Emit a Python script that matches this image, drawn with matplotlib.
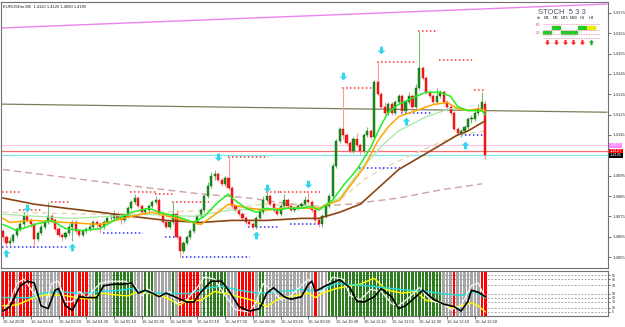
import numpy as np
import matplotlib.pyplot as plt
from matplotlib.path import Path
from matplotlib.transforms import blended_transform_factory

plt.rcParams['font.family'] = ['Liberation Sans', 'DejaVu Sans']

# ---- price bars (EURUSDm M5) ----
opens = [1.4068, 1.4065, 1.4062, 1.4063, 1.4066, 1.4069, 1.4071, 1.4075, 1.4073, 1.4071,
         1.4064, 1.4067, 1.4070, 1.4072, 1.4075, 1.4073, 1.4069, 1.4066, 1.4065, 1.4067,
         1.4070, 1.4072, 1.4068, 1.4066, 1.4068, 1.4069, 1.4070, 1.4072, 1.4071, 1.4070,
         1.4072, 1.4074, 1.4074, 1.4076, 1.4074, 1.4073, 1.4075, 1.4079, 1.4082, 1.4084,
         1.4080, 1.4077, 1.4078, 1.4080, 1.4082, 1.4083, 1.4076, 1.4072, 1.4070, 1.4072,
         1.4076, 1.4065, 1.4058, 1.4062, 1.4065, 1.4068, 1.4072, 1.4075, 1.4078, 1.4085,
         1.4090, 1.4095, 1.4096, 1.4093, 1.4091, 1.4094, 1.4089, 1.4080, 1.4078, 1.4076,
         1.4074, 1.4072, 1.4071, 1.4070, 1.4074, 1.4077, 1.4083, 1.4085, 1.4081, 1.4078,
         1.4076, 1.4080, 1.4083, 1.4080, 1.4078, 1.4079, 1.4080, 1.4081, 1.4083, 1.4082,
         1.4078, 1.4073, 1.4071, 1.4075, 1.4080, 1.4085, 1.4100, 1.4112, 1.4118, 1.4115,
         1.4111, 1.4107, 1.4113, 1.4110, 1.4107, 1.4115, 1.4117, 1.4114, 1.4141, 1.4135,
         1.4129, 1.4126, 1.4130, 1.4126, 1.4131, 1.4134, 1.4127, 1.4131, 1.4134, 1.4129,
         1.4138, 1.4148, 1.4143, 1.4136, 1.4134, 1.4131, 1.4134, 1.4136, 1.4131, 1.4129,
         1.4126, 1.4118, 1.4116, 1.4117, 1.4119, 1.4123, 1.4123, 1.4126, 1.4128, 1.4130]
closes = [1.4065, 1.4062, 1.4063, 1.4066, 1.4069, 1.4071, 1.4075, 1.4073, 1.4071, 1.4064,
          1.4067, 1.4070, 1.4072, 1.4075, 1.4073, 1.4069, 1.4066, 1.4065, 1.4067, 1.4070,
          1.4072, 1.4068, 1.4066, 1.4068, 1.4069, 1.4070, 1.4072, 1.4071, 1.4070, 1.4072,
          1.4074, 1.4074, 1.4076, 1.4074, 1.4073, 1.4075, 1.4079, 1.4082, 1.4084, 1.4080,
          1.4077, 1.4078, 1.4080, 1.4082, 1.4083, 1.4076, 1.4072, 1.4070, 1.4072, 1.4076,
          1.4065, 1.4058, 1.4062, 1.4065, 1.4068, 1.4072, 1.4075, 1.4078, 1.4085, 1.4090,
          1.4095, 1.4096, 1.4093, 1.4091, 1.4094, 1.4089, 1.4080, 1.4078, 1.4076, 1.4074,
          1.4072, 1.4071, 1.4070, 1.4074, 1.4077, 1.4083, 1.4085, 1.4081, 1.4078, 1.4076,
          1.4080, 1.4083, 1.4080, 1.4078, 1.4079, 1.4080, 1.4081, 1.4083, 1.4082, 1.4078,
          1.4073, 1.4071, 1.4075, 1.4080, 1.4085, 1.4100, 1.4112, 1.4118, 1.4115, 1.4111,
          1.4107, 1.4113, 1.4110, 1.4107, 1.4115, 1.4117, 1.4114, 1.4141, 1.4135, 1.4129,
          1.4126, 1.4130, 1.4126, 1.4131, 1.4134, 1.4127, 1.4131, 1.4134, 1.4129, 1.4138,
          1.4148, 1.4143, 1.4136, 1.4134, 1.4131, 1.4134, 1.4136, 1.4131, 1.4129, 1.4126,
          1.4118, 1.4116, 1.4117, 1.4119, 1.4123, 1.4123, 1.4126, 1.4128, 1.4131, 1.4105]
highs = [1.4069, 1.4066, 1.4065, 1.4067, 1.4070, 1.4073, 1.4077, 1.4076, 1.4074, 1.4072,
         1.4068, 1.4071, 1.4073, 1.4082, 1.4076, 1.4074, 1.4070, 1.4067, 1.4068, 1.4071,
         1.4073, 1.4073, 1.4069, 1.4069, 1.4070, 1.4071, 1.4073, 1.4073, 1.4072, 1.4073,
         1.4075, 1.4076, 1.4078, 1.4077, 1.4075, 1.4076, 1.4080, 1.4083, 1.4086, 1.4085,
         1.4081, 1.4079, 1.4081, 1.4083, 1.4085, 1.4084, 1.4077, 1.4073, 1.4073, 1.4082,
         1.4078, 1.4066, 1.4063, 1.4066, 1.4069, 1.4073, 1.4076, 1.4079, 1.4086, 1.4092,
         1.4097, 1.4098, 1.4097, 1.4094, 1.4095, 1.4104, 1.4090, 1.4081, 1.4079, 1.4077,
         1.4075, 1.4073, 1.4072, 1.4075, 1.4078, 1.4085, 1.4087, 1.4086, 1.4082, 1.4079,
         1.4081, 1.4086, 1.4084, 1.4081, 1.4080, 1.4081, 1.4082, 1.4085, 1.4087, 1.4083,
         1.4079, 1.4074, 1.4076, 1.4081, 1.4086, 1.4101, 1.4113, 1.4119, 1.4138, 1.4116,
         1.4112, 1.4114, 1.4116, 1.4111, 1.4116, 1.4119, 1.4118, 1.4142, 1.4151, 1.4136,
         1.4131, 1.4131, 1.4131, 1.4132, 1.4135, 1.4135, 1.4132, 1.4136, 1.4135, 1.4140,
         1.4166, 1.4149, 1.4144, 1.4137, 1.4135, 1.4138, 1.4137, 1.4137, 1.4132, 1.4130,
         1.4127, 1.4119, 1.4118, 1.4120, 1.4124, 1.4125, 1.4127, 1.4130, 1.4136, 1.4132]
lows = [1.4063, 1.4060, 1.4061, 1.4062, 1.4065, 1.4068, 1.4070, 1.4072, 1.4070, 1.4060,
        1.4063, 1.4066, 1.4069, 1.4071, 1.4072, 1.4068, 1.4065, 1.4063, 1.4064, 1.4066,
        1.4063, 1.4067, 1.4065, 1.4065, 1.4067, 1.4068, 1.4069, 1.4070, 1.4067, 1.4069,
        1.4071, 1.4073, 1.4073, 1.4073, 1.4071, 1.4072, 1.4074, 1.4078, 1.4081, 1.4079,
        1.4076, 1.4076, 1.4077, 1.4079, 1.4081, 1.4075, 1.4071, 1.4069, 1.4069, 1.4071,
        1.4064, 1.4055, 1.4057, 1.4061, 1.4064, 1.4067, 1.4071, 1.4074, 1.4077, 1.4084,
        1.4089, 1.4093, 1.4092, 1.4090, 1.4090, 1.4088, 1.4079, 1.4077, 1.4075, 1.4073,
        1.4071, 1.4070, 1.4069, 1.4069, 1.4073, 1.4076, 1.4082, 1.4080, 1.4077, 1.4075,
        1.4075, 1.4079, 1.4079, 1.4077, 1.4077, 1.4078, 1.4079, 1.4080, 1.4081, 1.4077,
        1.4072, 1.4070, 1.4070, 1.4074, 1.4079, 1.4084, 1.4099, 1.4111, 1.4113, 1.4110,
        1.4106, 1.4106, 1.4109, 1.4105, 1.4106, 1.4114, 1.4113, 1.4113, 1.4134, 1.4128,
        1.4125, 1.4125, 1.4125, 1.4125, 1.4130, 1.4126, 1.4126, 1.4130, 1.4128, 1.4128,
        1.4137, 1.4142, 1.4135, 1.4133, 1.4130, 1.4130, 1.4133, 1.4130, 1.4128, 1.4125,
        1.4117, 1.4115, 1.4114, 1.4116, 1.4118, 1.4121, 1.4122, 1.4125, 1.4127, 1.4103]

# ---- moving averages, read at sample bars ----
lime_x = [0, 4, 9, 14, 18, 23, 28, 33, 37, 42, 45, 50, 55, 58, 62, 65, 66, 70, 73, 76, 79, 82, 86, 89, 91,
          95, 98, 102, 106, 109, 111, 114, 119, 122, 126, 129, 131, 134, 138, 139]
lime_y = [1.4071, 1.4068, 1.4071, 1.4073, 1.4069, 1.4068, 1.4069, 1.4074, 1.4077, 1.4079, 1.4077, 1.4075,
          1.4072, 1.4075, 1.4082, 1.4086, 1.4084, 1.4079, 1.4077, 1.4079, 1.4078, 1.4079, 1.4079, 1.4080,
          1.4078, 1.4083, 1.4090, 1.4098, 1.4109, 1.4120, 1.4126, 1.4130, 1.4134, 1.4136, 1.4136, 1.4134,
          1.4129, 1.4127, 1.4127, 1.4125]
orange_x = [0, 2, 9, 18, 28, 37, 43, 50, 57, 62, 65, 71, 76, 81, 88, 91, 97, 104, 108, 111, 114, 119,
            124, 128, 131, 134, 137, 139]
orange_y = [1.4074, 1.4072, 1.4073, 1.4072, 1.4071, 1.4075, 1.4077, 1.4074, 1.4071, 1.4077, 1.4081,
            1.4079, 1.4078, 1.4079, 1.4079, 1.4079, 1.4083, 1.4099, 1.4112, 1.4119, 1.4124, 1.4127,
            1.4130, 1.4131, 1.4128, 1.4127, 1.4128, 1.4127]
pale_x = [0, 20, 40, 55, 65, 80, 91, 97, 103, 110, 114, 122, 129, 134, 139]
pale_y = [1.4076, 1.4074, 1.4076, 1.4075, 1.4078, 1.4079, 1.4079, 1.4084, 1.4098, 1.4111, 1.4117,
          1.4124, 1.4128, 1.4127, 1.4127]
wheat_x = [0, 30, 60, 75, 91, 97, 104, 110, 120, 131, 139]
wheat_y = [1.4077, 1.4076, 1.4078, 1.4081, 1.4080, 1.4083, 1.4093, 1.4099, 1.4107, 1.4115, 1.4117]
brown_x = [0, 9, 18, 28, 37, 47, 57, 66, 76, 86, 91, 97, 103, 114, 117, 122, 127, 131, 134, 138, 139]
brown_y = [1.4084, 1.4081, 1.4079, 1.4077, 1.4075, 1.4073, 1.4072, 1.4073, 1.4073, 1.4074, 1.4074,
           1.4077, 1.4081, 1.4098, 1.4101, 1.4106, 1.4111, 1.4115, 1.4117, 1.4121, 1.4122]
rosy_x = [0, 14, 28, 42, 57, 71, 83, 91, 100, 114, 126, 138]
rosy_y = [1.4098, 1.4095, 1.4092, 1.4089, 1.4086, 1.4084, 1.4081, 1.4080, 1.4081, 1.4084, 1.4088, 1.4091]

# ---- fractal levels (start bar, end bar, price) ----
res_start = [0, 5, 14, 37, 44, 49, 65, 76, 80, 88, 98, 108, 120, 126, 136]
res_end = [5, 11, 19, 44, 49, 59, 76, 80, 87, 91, 106, 119, 125, 135, 139]
res_price = [1.4087, 1.4078, 1.4082, 1.4087, 1.4086, 1.4082, 1.4104, 1.4087, 1.4087, 1.4087,
             1.4138, 1.4151, 1.4166, 1.4152, 1.4137]
sup_start = [0, 9, 29, 47, 52, 71, 83, 103, 115, 131]
sup_end = [9, 18, 40, 51, 71, 79, 91, 114, 123, 139]
sup_price = [1.4060, 1.4060, 1.4067, 1.4065, 1.4055, 1.4070, 1.4071, 1.4099, 1.4126, 1.4115]

# ---- signal arrows ----
dn_bar = [7, 62, 76, 88, 98, 109]
dn_price = [1.4079, 1.4104, 1.4089, 1.4091, 1.4144, 1.4157]
up_bar = [1, 20, 73, 116, 133]
up_price = [1.4057, 1.4060, 1.4066, 1.4122, 1.4110]

# ---- horizontal lines ----
trend_x = [-1, 174]
trend_pink = [1.41676, 1.41794]
trend_olive = [1.41302, 1.41262]
hl_prices = [1.4110, 1.4107, 1.4105]
hl_colors = ['#f5c8e6', '#f07070', '#80e8f0']
tag_text = ['1.4110', '1.4107', '1.4105']
tag_colors = ['#ff80ff', '#ff0000', '#000000']
price_ticks = [1.4175, 1.4165, 1.4155, 1.4145, 1.4135, 1.4125, 1.4115,
               1.4095, 1.4085, 1.4075, 1.4065, 1.4055]

# ---- stochastic sub window ----
band_codes = ("r" * 4 + "n" + "r" * 4 + "n" * 8 + "r" * 4 + "n" + "r" * 3 + "n" * 2 + "g" * 2 + "n" * 3 +
              "g" * 6 + "n" * 3 + "g" * 3 + "n" * 5 + "g" + "n" + "r" * 6 + "n" + "g" * 7 + "n" * 3 +
              "r" * 5 + "n" + "g" * 2 + "n" * 14 + "r" + "n" * 3 + "g" * 33 + "n" * 3 + "r" + "n" * 7 + "r" * 2)
black_x = [0, 2, 5, 7, 9, 11, 13, 15, 16, 18, 20, 22, 24, 27, 29, 32, 35, 37, 39, 41, 43, 45, 47, 50, 53,
           55, 57, 60, 63, 65, 68, 71, 74, 76, 78, 81, 83, 86, 88, 89, 90, 93, 97, 100, 102, 104, 107,
           109, 112, 114, 116, 119, 121, 124, 127, 130, 132, 134, 135, 137, 139]
black_v = [7, 18, 69, 80, 76, 20, 13, 58, 62, 20, 9, 42, 40, 40, 69, 73, 73, 76, 51, 58, 51, 42, 51, 40,
           29, 29, 53, 80, 80, 58, 18, 7, 13, 51, 64, 42, 36, 42, 73, 80, 55, 69, 84, 64, 31, 29, 42, 62,
           42, 13, 20, 42, 58, 36, 24, 18, 7, 31, 58, 53, 42]
white_x = [0, 2, 4, 6, 9, 12, 14, 16, 18, 20, 22, 24, 28, 31, 35, 38, 40, 42, 45, 48, 50, 53, 56, 58,
           61, 64, 67, 71, 73, 75, 78, 80, 83, 86, 88, 90, 92, 95, 98, 100, 103, 106, 109, 112, 114,
           117, 120, 122, 124, 127, 129, 132, 135, 137, 139]
white_v = [5, 30, 75, 85, 50, 15, 75, 80, 30, 30, 55, 40, 75, 80, 80, 70, 45, 60, 40, 55, 25, 35, 65,
           90, 85, 45, 10, 5, 30, 75, 55, 35, 45, 70, 85, 55, 55, 90, 85, 45, 35, 60, 55, 25, 20, 40,
           65, 45, 30, 25, 10, 20, 70, 75, 40]
cyan_x = [0, 8, 11, 16, 22, 28, 34, 37, 42, 48, 54, 58, 63, 68, 74, 80, 86, 91, 96, 100, 106, 112,
          117, 122, 126, 132, 136, 139]
cyan_v = [40, 40, 50, 55, 50, 55, 58, 62, 52, 50, 50, 62, 68, 58, 50, 55, 60, 55, 75, 72, 68, 62, 58,
          55, 50, 45, 55, 40]
yellow_x = [0, 4, 9, 12, 14, 18, 21, 25, 28, 32, 36, 39, 43, 47, 51, 53, 57, 61, 65, 68, 72, 76, 80,
            84, 88, 90, 92, 96, 100, 103, 106, 107, 110, 112, 115, 119, 122, 126, 129, 132, 135, 137, 139]
yellow_v = [20, 22, 40, 47, 47, 45, 40, 36, 51, 47, 44, 55, 49, 40, 22, 33, 33, 55, 49, 42, 33, 18, 40,
            44, 51, 40, 51, 62, 69, 73, 84, 87, 62, 56, 51, 55, 33, 29, 15, 20, 27, 20, 5]
stoch_levels = [95, 85, 70, 50, 40, 30, 15, 5]
time_ticks = [0, 8, 16, 24, 32, 40, 48, 56, 64, 72, 80, 88, 96, 104, 112, 120, 128, 136]
time_labels = ["16 Jul 2009", "16 Jul 03:10", "16 Jul 03:50", "16 Jul 04:30", "16 Jul 05:10",
               "16 Jul 05:50", "16 Jul 06:30", "16 Jul 07:10", "16 Jul 07:50", "16 Jul 08:30",
               "16 Jul 09:10", "16 Jul 09:50", "16 Jul 10:30", "16 Jul 11:10", "16 Jul 11:50",
               "16 Jul 12:30", "16 Jul 13:10", "16 Jul 13:50"]

# ---- multi timeframe stoch panel ----
tf_names = ["M1", "M5", "M15", "M30", "H1", "H4"]
tf_zone = [20, 80, 20, 20, 80, 80]
tf_fill = ["#22cc22", "#22cc22", "#22cc22", "#22cc22", "#22cc22", "#eeee00"]
tf_dir = ["dn", "dn", "dn", "dn", "dn", "up"]

W, H = 625, 327
fig = plt.figure(figsize=(W / 100, H / 100), dpi=100)
fig.patch.set_facecolor('white')
ax = fig.add_axes([1 / W, 1 - 268 / H, 607 / W, 266 / H])
sub = fig.add_axes([1 / W, 1 - 316 / H, 607 / W, 45 / H])
ov = fig.add_axes([0, 0, 1, 1])
ov.set_xlim(0, W)
ov.set_ylim(H, 0)
ov.axis('off')

xl = (-0.58, 174.35)
x = np.arange(len(closes))
o, h, l, c = map(np.array, (opens, highs, lows, closes))
bull = c >= o

ax.set_xlim(*xl)
ax.set_ylim(1.40496, 1.41804)

# lines behind candles
ax.plot(trend_x, trend_pink, color='#ee82ee', lw=1.0, zorder=1)
ax.plot(trend_x, trend_olive, color='#7d7d5a', lw=0.9, zorder=1)
for p, col in zip(hl_prices, hl_colors):
    ax.axhline(p, color=col, lw=0.9, zorder=1)
ax.plot(rosy_x, rosy_y, color='#d0a0a0', lw=1.0, ls=(0, (5, 3)), zorder=2)
ax.plot(wheat_x, wheat_y, color='#e8d8b0', lw=1.0, ls=(0, (4, 3)), zorder=2)

for s, e, p in zip(res_start, res_end, res_price):
    ax.hlines(p, s - 0.3, e + 0.3, colors='#ff3030', lw=1.1, linestyles=(0, (1, 1.6)), zorder=3)
for s, e, p in zip(sup_start, sup_end, sup_price):
    ax.hlines(p, s - 0.3, e + 0.3, colors='#3030ff', lw=1.1, linestyles=(0, (1, 1.6)), zorder=3)

# candles
ax.vlines(x[bull], l[bull], h[bull], color='#77bb77', lw=0.8, zorder=4)
ax.vlines(x[~bull], l[~bull], h[~bull], color='#ff9999', lw=0.8, zorder=4)
body_lo = np.minimum(o, c)
body_h = np.maximum(np.abs(c - o), 0.00003)
ax.bar(x[bull], body_h[bull], bottom=body_lo[bull], width=0.62, color='#179317',
       edgecolor='#0d5d0d', lw=0.3, zorder=5)
ax.bar(x[~bull], body_h[~bull], bottom=body_lo[~bull], width=0.62, color='#ff1a1a',
       edgecolor='#d00000', lw=0.3, zorder=5)

ax.plot(brown_x, brown_y, color='#8b4513', lw=1.2, zorder=6)
ax.plot(pale_x, pale_y, color='#a8e8a8', lw=0.9, zorder=6)
ax.plot(orange_x, orange_y, color='#ffa500', lw=1.1, zorder=6)
ax.plot(lime_x, lime_y, color='#22ee22', lw=1.1, zorder=7)

arrow_dn = Path([(-0.2, 0.5), (0.2, 0.5), (0.2, 0.0), (0.5, 0.0), (0, -0.5), (-0.5, 0.0), (-0.2, 0.0), (-0.2, 0.5)],
                [Path.MOVETO] + [Path.LINETO] * 6 + [Path.CLOSEPOLY])
arrow_up = Path([(-0.2, -0.5), (0.2, -0.5), (0.2, 0.0), (0.5, 0.0), (0, 0.5), (-0.5, 0.0), (-0.2, 0.0), (-0.2, -0.5)],
                [Path.MOVETO] + [Path.LINETO] * 6 + [Path.CLOSEPOLY])
ax.scatter(dn_bar, dn_price, marker=arrow_dn, s=30, color='#33d6ee', lw=0, zorder=8)
ax.scatter(up_bar, up_price, marker=arrow_up, s=30, color='#33d6ee', lw=0, zorder=8)

ax.set_xticks([])
ax.yaxis.tick_right()
ax.set_yticks(price_ticks)
ax.set_yticklabels([f'{p:.4f}' for p in price_ticks])
ax.tick_params(axis='y', labelsize=3.1, length=2, pad=1, width=0.5, colors='#303030')
for sp in ax.spines.values():
    sp.set_color('#707070')
    sp.set_linewidth(0.8)
ax.text(0.004, 0.992, 'EURUSDm,M5  1.4120 1.4120 1.4080 1.4105', transform=ax.transAxes,
        fontsize=3.0, va='top', ha='left', color='#202020')

tr = blended_transform_factory(ax.transAxes, ax.transData)
for p, t, col in zip(hl_prices, tag_text, tag_colors):
    ax.text(1.003, p, t, transform=tr, fontsize=2.9, color='white', va='center', ha='left',
            bbox=dict(facecolor=col, edgecolor='none', pad=0.4), clip_on=False, zorder=10)

# sub window
sub.set_xlim(*xl)
sub.set_ylim(-5, 105)
cmap = {'r': '#ff0000', 'g': '#2d7d1e', 'n': '#a6a6a6'}
for lv in stoch_levels:
    sub.axhline(lv, color='#909090', lw=0.6, ls=(0, (2, 2)), zorder=0)
sub.bar(x, 110, bottom=-5, width=0.7, color=[cmap[k] for k in band_codes], zorder=1)
sub.plot(yellow_x, yellow_v, color='#ffff00', lw=1.0, zorder=3)
sub.plot(cyan_x, cyan_v, color='#22dddd', lw=1.0, zorder=3)
sub.plot(white_x, white_v, color='#f4f4f4', lw=0.9, zorder=4)
sub.plot(black_x, black_v, color='#000000', lw=1.2, zorder=5)
sub.yaxis.tick_right()
sub.set_yticks(stoch_levels)
sub.set_yticklabels([str(v) for v in stoch_levels])
sub.tick_params(axis='y', labelsize=2.6, length=1.5, pad=1, width=0.5, colors='#303030')
sub.set_xticks(time_ticks)
sub.set_xticklabels(time_labels, ha='left')
sub.tick_params(axis='x', labelsize=3.0, length=2, pad=1, width=0.5, colors='#303030')
for sp in sub.spines.values():
    sp.set_color('#707070')
    sp.set_linewidth(0.8)

# multi timeframe box
ov.text(562, 12, 'STOCH  5 3 3', fontsize=5.5, color='#505070', ha='center', va='center')
ov.text(537, 18, 'ch', fontsize=2.9, color='#303030', ha='left', va='center')
for k, name in enumerate(tf_names):
    cx = 547 + k * 8.8
    ov.text(cx, 18, name, fontsize=2.9, color='#303030', ha='center', va='center')
    yb = 27.5 if tf_zone[k] == 80 else 32
    ov.add_patch(plt.Rectangle((cx - 4, yb - 1.5), 8, 3, color=tf_fill[k]))
    if tf_dir[k] == 'dn':
        ov.scatter([cx], [42], marker=arrow_dn, s=14, color='#ff2020', lw=0)
    else:
        ov.scatter([cx], [42], marker=arrow_up, s=14, color='#20a020', lw=0)
ov.text(538, 25, '80', fontsize=3.0, color='#e04090', ha='center', va='center')
ov.text(538, 33, '20', fontsize=3.0, color='#e04090', ha='center', va='center')
for yy in [24, 29.5, 34, 38]:
    ov.plot([543, 600], [yy, yy], color='#f0a0c0', lw=0.6, ls=(0, (2, 1)))

fig.savefig('out.png', dpi=100)
